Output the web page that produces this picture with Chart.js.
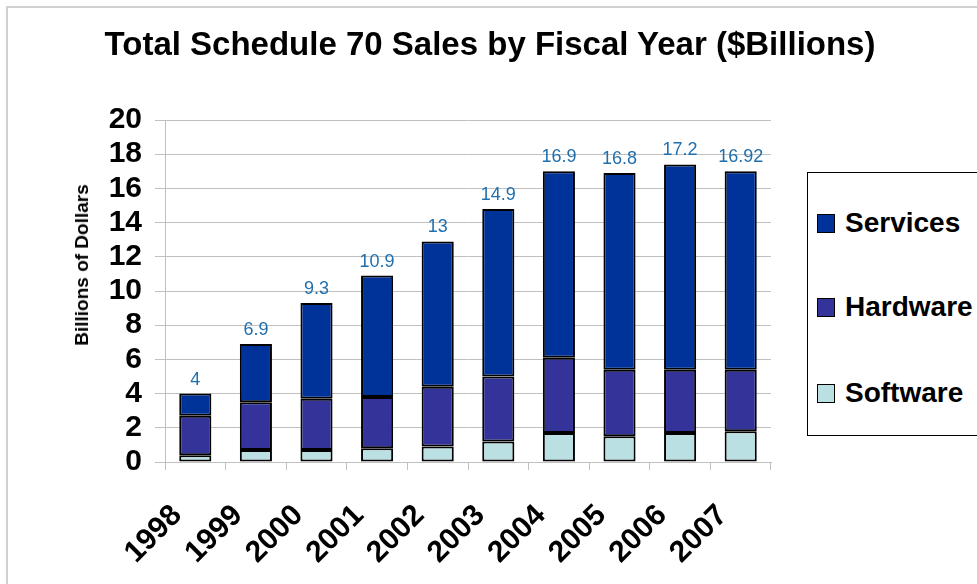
<!DOCTYPE html>
<html>
<head>
<meta charset="utf-8">
<script src="https://cdn.jsdelivr.net/npm/chart.js@4.4.1/dist/chart.umd.min.js"></script>
<style>
    html, body { margin: 0; padding: 0; background: #fff; overflow: hidden; }
    body { width: 977px; height: 584px; position: relative; font-family: "Liberation Sans", Arial, sans-serif; }
    .frame { position: absolute; left: 6px; top: 6px; width: 1100px; height: 700px; border-left: 2px solid #d0d0d0; border-top: 2px solid #d0d0d0; }
    canvas { position: absolute; left: 0; top: 0; }
    .title { position: absolute; left: 490px; top: 27px; transform: translateX(-50%); font-weight: bold; font-size: 33px; line-height: 33px; white-space: nowrap; color: #000; }
    .ytitle { position: absolute; left: 82px; top: 265px; transform: translate(-50%, -50%) rotate(-90deg); font-weight: bold; font-size: 19px; white-space: nowrap; color: #000; }
    .legend { position: absolute; left: 807px; top: 172px; width: 220px; height: 262px; border: 1px solid #000; background: #fff; }
    .legend .item { position: absolute; left: 9px; font-weight: bold; font-size: 28px; line-height: 28px; white-space: nowrap; }
    .legend .sw { display: inline-block; width: 16px; height: 17px; border: 1px solid #000; vertical-align: -1px; margin-right: 10px; }
</style>
</head>
<body>
<div class="frame"></div>
<canvas id="chart" width="977" height="584"></canvas>
<div class="title">Total Schedule 70 Sales by Fiscal Year ($Billions)</div>
<div class="ytitle">Billions of Dollars</div>
<div class="legend" id="legend"></div>
<script>
const years = ['1998', '1999', '2000', '2001', '2002', '2003', '2004', '2005', '2006', '2007'];
const software = [0.4, 0.7, 0.7, 0.8, 0.9, 1.2, 1.7, 1.5, 1.7, 1.8];
const hardware = [2.3, 2.8, 3.0, 3.0, 3.5, 3.8, 4.4, 3.9, 3.7, 3.6];
const services = [1.3, 3.4, 5.6, 7.1, 8.5, 9.8, 10.9, 11.5, 12.0, 11.6];
const totalLabels = ['4', '6.9', '9.3', '10.9', '13', '14.9', '16.9', '16.8', '17.2', '16.92'];
const yTicks = [0, 2, 4, 6, 8, 10, 12, 14, 16, 18, 20];

const colors = { services: '#003399', hardware: '#333399', software: '#bbe0e3' };
const FONT = '"Liberation Sans", Arial, sans-serif';

// totals written above each stack
const totalsPlugin = {
    id: 'totals',
    afterDatasetsDraw(chart) {
        const ctx = chart.ctx;
        const top = chart.getDatasetMeta(chart.data.datasets.length - 1);
        ctx.save();
        ctx.fillStyle = '#1f6fae';
        ctx.font = '18px ' + FONT;
        ctx.textAlign = 'center';
        ctx.textBaseline = 'bottom';
        top.data.forEach((bar, i) => {
            ctx.fillText(totalLabels[i], bar.x, bar.y - 5);
        });
        ctx.restore();
    }
};

const ctx = document.getElementById('chart').getContext('2d');
new Chart(ctx, {
    type: 'bar',
    data: {
        labels: years,
        datasets: [
            { label: 'Software', data: software, backgroundColor: colors.software },
            { label: 'Hardware', data: hardware, backgroundColor: colors.hardware },
            { label: 'Services', data: services, backgroundColor: colors.services }
        ].map(d => Object.assign(d, {
            borderColor: '#000',
            borderWidth: 2,
            borderSkipped: false,
            barPercentage: 0.53,
            categoryPercentage: 1
        }))
    },
    options: {
        responsive: false,
        animation: false,
        layout: { padding: { left: 0, right: 206, top: 120, bottom: 0 } },
        plugins: {
            legend: { display: false },
            tooltip: { enabled: false },
            title: { display: false }
        },
        scales: {
            x: {
                stacked: true,
                afterFit: s => { s.height = 122; },
                grid: { offset: true, drawOnChartArea: false, color: '#c0c0c0', tickLength: 8 },
                border: { color: '#c0c0c0' },
                ticks: {
                    color: '#000',
                    font: { family: FONT, size: 30, weight: 'bold' },
                    minRotation: 45,
                    maxRotation: 45,
                    padding: 28,
                    labelOffset: -18
                }
            },
            y: {
                stacked: true,
                min: 0,
                max: 20,
                afterFit: s => { s.width = 165; },
                afterBuildTicks: s => { s.ticks = yTicks.map(v => ({ value: v })); },
                grid: { color: '#c0c0c0', tickLength: 10 },
                border: { color: '#c0c0c0' },
                ticks: {
                    autoSkip: false,
                    color: '#000',
                    font: { family: FONT, size: 30, weight: 'bold' },
                    padding: 13
                }
            }
        }
    },
    plugins: [totalsPlugin]
});

// legend box on the right, in the reference order
const legend = document.getElementById('legend');
[['Services', colors.services, 50], ['Hardware', colors.hardware, 134], ['Software', colors.software, 220]].forEach(([name, color, top]) => {
    const item = document.createElement('div');
    item.className = 'item';
    item.style.top = (top - 14) + 'px';
    item.innerHTML = '<span class="sw" style="background:' + color + '"></span>' + name;
    legend.appendChild(item);
});
</script>
</body>
</html>
